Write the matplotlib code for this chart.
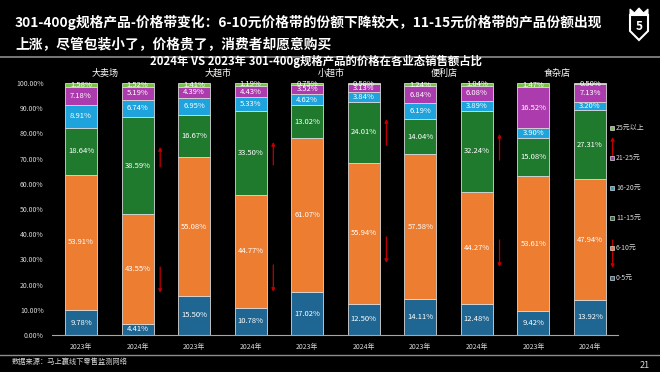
import numpy as np
import matplotlib.pyplot as plt
from matplotlib.patches import Polygon, Rectangle
from matplotlib.lines import Line2D

plt.rcParams['font.family'] = ['Noto Sans CJK SC', 'DejaVu Sans']

groups = ['大卖场', '大超市', '小超市', '便利店', '食杂店']
years = ['2023年', '2024年']

series_names = ['0-5元', '6-10元', '11-15元', '16-20元', '21-25元', '25元以上']
share_0_5 = [9.78, 4.41, 15.50, 10.78, 17.02, 12.50, 14.11, 12.48, 9.42, 13.92]
share_6_10 = [53.91, 43.55, 55.08, 44.77, 61.07, 55.94, 57.58, 44.27, 53.61, 47.94]
share_11_15 = [18.64, 38.59, 16.67, 33.50, 13.02, 24.01, 14.04, 32.24, 15.08, 27.31]
share_16_20 = [8.91, 6.74, 6.95, 5.33, 4.62, 3.84, 6.19, 3.89, 3.90, 3.20]
share_21_25 = [7.18, 5.19, 4.39, 4.43, 3.52, 3.13, 6.84, 6.08, 16.52, 7.13]
share_25_up = [1.58, 1.52, 1.41, 1.19, 0.75, 0.58, 1.24, 1.04, 1.47, 0.50]
shares = [share_0_5, share_6_10, share_11_15, share_16_20, share_21_25, share_25_up]

colors = ['#1f6792', '#ed7d31', '#1f7a2e', '#1ea3dc', '#ac3cae', '#79c14a']

# red arrows (start, end) per group, drawn next to the 2024 bar
arrow_up = [(66.7, 74.6), (67.5, 76.6), (75.4, 85.7), (69.4, 79.8), (70.6, 78.6)]
arrow_down = [(27.0, 16.7), (27.8, 17.1), (38.9, 28.6), (37.7, 27.0), (37.7, 26.6)]

W, H = 660, 372
fig = plt.figure(figsize=(6.6, 3.72), dpi=100, facecolor='black')

def fx(px):
    return px / W

def fy(py):
    return 1 - py / H

# header
fig.text(fx(15), fy(22), '301-400g规格产品-价格带变化：6-10元价格带的份额下降较大，11-15元价格带的产品份额出现',
         color='white', fontsize=9.9, fontweight='bold', va='center')
fig.text(fx(15), fy(44), '上涨，尽管包装小了，价格贵了，消费者却愿意购买',
         color='white', fontsize=9.9, fontweight='bold', va='center')
fig.add_artist(Line2D([0, 1], [fy(56.5), fy(56.5)], color='#8c8c8c', lw=1.2))
fig.add_artist(Line2D([0, 1], [fy(355), fy(355)], color='#8c8c8c', lw=1.0))

# logo
shield = [(630, 15), (648, 15), (648, 31), (639, 40), (630, 31)]
fig.add_artist(Polygon([(fx(a), fy(b)) for a, b in shield], closed=True,
                       fill=False, ec='white', lw=1.5, transform=fig.transFigure))
crown = [(630, 15), (630, 9), (634.5, 13), (639, 8), (643.5, 13), (648, 9), (648, 15)]
fig.add_artist(Polygon([(fx(a), fy(b)) for a, b in crown], closed=True,
                       fc='white', ec='white', lw=0.8, transform=fig.transFigure))
fig.text(fx(639), fy(26.5), '5', color='white', fontsize=8.5, fontweight='bold',
         ha='center', va='center')

fig.text(fx(316), fy(61), '2024年 VS 2023年 301-400g规格产品的价格在各业态销售额占比',
         color='white', fontsize=8.2, fontweight='bold', ha='center', va='center')

# chart
ax = fig.add_axes([fx(52), fy(335), (618 - 52) / W, (335 - 83) / H])
ax.set_facecolor('black')

x = np.arange(len(groups) * 2)
bottom = np.zeros(len(x))
for name, vals, col in zip(series_names, shares, colors):
    vals = np.array(vals)
    ax.bar(x, vals, 0.566, bottom=bottom, color=col, edgecolor='#d9d9d9', lw=0.6, label=name)
    for xi, v, b in zip(x, vals, bottom):
        ax.text(xi, b + v / 2, f'{v:.2f}%', color='white', fontsize=5.5,
                ha='center', va='center', clip_on=False)
    bottom += vals

ax.set_xlim(-0.513, 9.495)
ax.set_ylim(0, 100)
ax.set_yticks(np.arange(0, 101, 10))
ax.set_yticklabels([f'{v:.2f}%' for v in np.arange(0, 101, 10)], color='#d9d9d9', fontsize=5)
ax.set_xticks(x)
ax.set_xticklabels(years * len(groups), color='#d9d9d9', fontsize=5)
ax.tick_params(length=0, pad=6)
for s in ['top', 'right', 'left']:
    ax.spines[s].set_visible(False)
ax.spines['bottom'].set_color('#a6a6a6')
ax.spines['bottom'].set_linewidth(0.8)

for g, name in enumerate(groups):
    ax.text(2 * g + 0.42, 104, name, color='white', fontsize=6.5, ha='center',
            va='center', clip_on=False)
    ax_x = 2 * g + 1 + 0.4
    for y0, y1 in (arrow_up[g], arrow_down[g]):
        ax.annotate('', xy=(ax_x, y1), xytext=(ax_x, y0), annotation_clip=False,
                    arrowprops=dict(arrowstyle='-|>', color='#c00000', lw=0.9,
                                    mutation_scale=5, shrinkA=0, shrinkB=0))

# legend (manual, top to bottom)
for i, (name, col) in enumerate(zip(series_names[::-1], colors[::-1])):
    py = 128 + 30 * i
    fig.add_artist(Rectangle((fx(610), fy(py + 2)), 4 / W, 4 / H, fc=col, ec='#d9d9d9',
                             lw=0.5, transform=fig.transFigure))
    fig.text(fx(616), fy(py), name, color='#d9d9d9', fontsize=5, va='center')

fig.text(fx(12), fy(362), '数据来源：马上赢线下零售监测网络', color='#d9d9d9', fontsize=5.2, va='center')
fig.text(fx(650), fy(365), '21', color='#d9d9d9', fontsize=6.5, ha='right', va='center')

fig.savefig('out.png', dpi=100, facecolor='black')
